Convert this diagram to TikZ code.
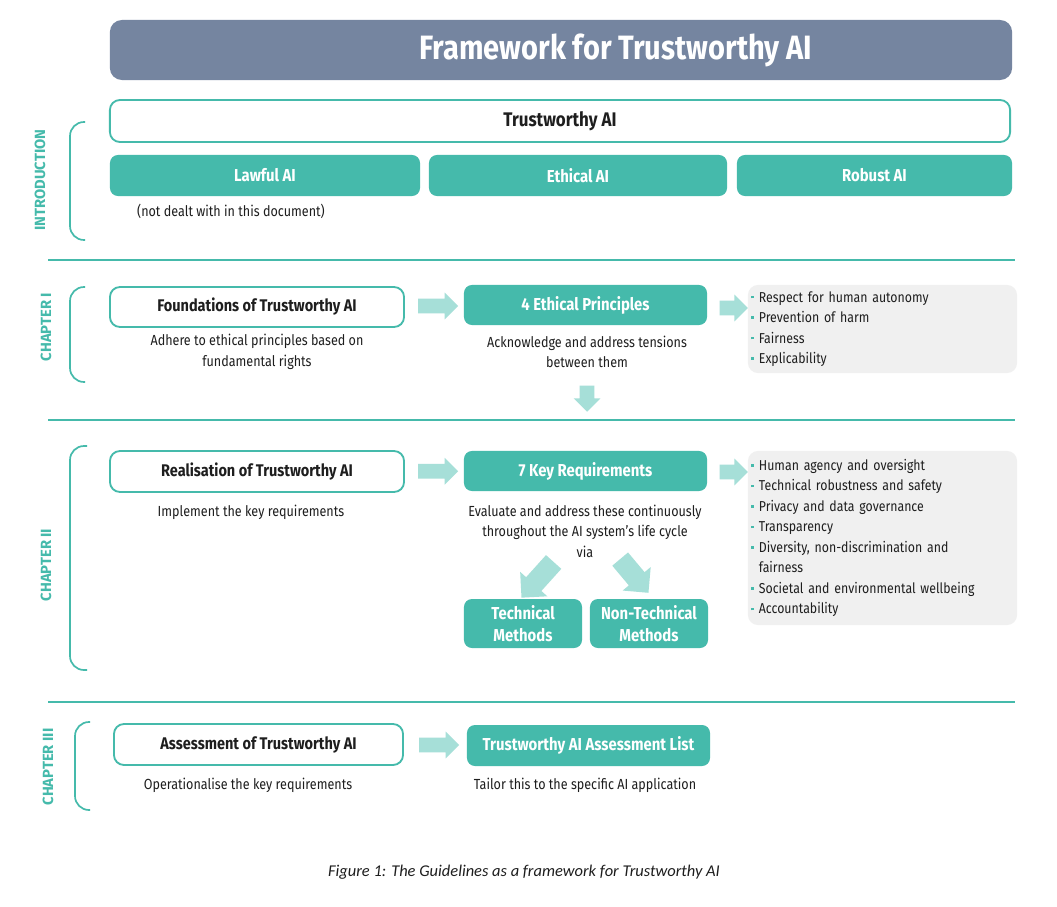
\documentclass[tikz,border=0pt]{standalone}
\usepackage{fontspec}
\setmainfont{Fira Sans}[FakeStretch=0.86]
\newfontfamily\capfont{Carlito}
\newfontfamily\chapfont{Fira Sans}
\usetikzlibrary{shapes.arrows,calc}

\definecolor{aiteal}{HTML}{45BAAB}
\definecolor{aipale}{HTML}{A6DFD8}
\definecolor{aislate}{HTML}{7585A0}
\definecolor{aigrey}{HTML}{F0F0F0}
\definecolor{aitext}{HTML}{1E1E1E}

\newcommand{\itm}{\makebox[5.5pt][l]{\textcolor{aiteal}{\rule[2.6pt]{1.8pt}{1.8pt}}}}

\begin{document}
\begin{tikzpicture}[x=0.025cm, y=-0.025cm,
  every node/.style={text=aitext, font=\fontsize{10.4}{14.5}\selectfont},
  framebox/.style={draw=aiteal, line width=1.3pt, fill=white, rounded corners=0.25cm,
    font=\bfseries\fontsize{12}{14}\selectfont},
  tealbox/.style={fill=aiteal, rounded corners=0.2cm, text=white, align=center,
    font=\bfseries\fontsize{12.3}{16}\selectfont},
  listbox/.style={fill=aigrey, rounded corners=0.25cm, align=left, inner xsep=0.08cm,
    text width=6.565cm, minimum width=6.725cm, font=\fontsize{10.2}{14.6}\selectfont},
  subtxt/.style={align=center},
  chaplabel/.style={rotate=90, text=aiteal, font=\chapfont\bfseries\fontsize{10.5}{11}\selectfont},
  bracket/.style={aiteal, line width=1.2pt, rounded corners=0.35cm},
  sepline/.style={aiteal, line width=1pt},
  blockarrow/.style={single arrow, fill=aipale, inner sep=0.18cm, minimum width=0.66cm,
    single arrow head extend=0.15cm, minimum height=1cm},
  diagarrow/.style={blockarrow, inner sep=0.25cm, minimum width=0.9cm, single arrow head extend=0.2cm}]

\fill[white] (0,0) rectangle (1057,906);
\useasboundingbox (0,0) rectangle (1057,906);

% title banner
\node[fill=aislate, rounded corners=0.3cm, minimum width=22.55cm, minimum height=1.5cm] (banner) at (561,50) {};
\node[text=white, font=\bfseries\fontsize{24}{26}\selectfont] (title) at (616,50) {Framework for Trustworthy AI};

% introduction
\node[chaplabel] (intro) at (40,180) {INTRODUCTION};
\draw[bracket] (85,122) -- (70,122) -- (70,240) -- (85,240);
\node[framebox, minimum width=22.5cm, minimum height=1.05cm, font=\bfseries\fontsize{14}{16}\selectfont] (tai) at (560,121) {Trustworthy AI};
\node[tealbox, minimum width=7.75cm, minimum height=1.025cm] (lawful) at (265,175.5) {Lawful AI};
\node[tealbox, minimum width=7.45cm, minimum height=1.025cm] (ethical) at (578,175.5) {Ethical AI};
\node[tealbox, minimum width=6.875cm, minimum height=1.025cm] (robust) at (874.5,175.5) {Robust AI};
\node[subtxt] (lawful-sub) at (231,211) {(not dealt with in this document)};

\draw[sepline] (48,260) -- (1015,260);

% chapter I
\node[chaplabel] (ch1) at (46,327) {CHAPTER I};
\draw[bracket] (85,287) -- (70,287) -- (70,382) -- (85,382);
\node[framebox, minimum width=7.35cm, minimum height=1cm] (found) at (257,307) {Foundations of Trustworthy AI};
\node[subtxt] (found-sub) at (257,352) {Adhere to ethical principles based on\\fundamental rights};
\node[tealbox, minimum width=6.075cm, minimum height=1cm] (ethp) at (585.5,305) {4 Ethical Principles};
\node[subtxt] (ethp-sub) at (587,352) {Acknowledge and address tensions\\between them};
\node[listbox, minimum height=2.2cm] (plist) at (882.5,329)
  {\itm Respect for human autonomy\\\itm Prevention of harm\\\itm Fairness\\\itm Explicability};
\node[blockarrow] (ar1) at ($(found.east)!0.5!(ethp.west)$) {};
\node[blockarrow, minimum height=0.7cm] (ar2) at (730,308) {};
\node[blockarrow, minimum height=0.65cm, rotate=270] (ar3) at (587,395) {};

\draw[sepline] (48,420) -- (1015,420);

% chapter II
\node[chaplabel] (ch2) at (46,565) {CHAPTER II};
\draw[bracket] (87,446) -- (70,446) -- (70,670) -- (87,670);
\node[framebox, minimum width=7.35cm, minimum height=1.025cm] (real) at (257,471.5) {Realisation of Trustworthy AI};
\node[subtxt] (real-sub) at (251,512) {Implement the key requirements};
\node[tealbox, minimum width=6.075cm, minimum height=1cm] (keyreq) at (585.5,471) {7 Key Requirements};
\node[subtxt] (keyreq-sub) at (585,531) {Evaluate and address these continuously\\throughout the AI system's life cycle\\via};
\node[listbox, minimum height=4.35cm] (rlist) at (882.5,538)
  {\itm Human agency and oversight\\\itm Technical robustness and safety\\\itm Privacy and data governance\\\itm Transparency\\\itm Diversity, non-discrimination and\\\hspace*{5.5pt}fairness\\\itm Societal and environmental wellbeing\\\itm Accountability};
\node[blockarrow] (ar4) at ($(real.east)!0.5!(keyreq.west)$) {};
\node[blockarrow, minimum height=0.7cm] (ar5) at (730,472) {};
\node[tealbox, minimum width=2.95cm, minimum height=1.225cm] (tech) at (523,623.5) {Technical\\Methods};
\node[tealbox, minimum width=2.95cm, minimum height=1.225cm] (nontech) at (649,623.5) {Non-Technical\\Methods};
\node[diagarrow, minimum height=1.2cm, rotate=228] (ar6) at (541,576) {};
\node[diagarrow, minimum height=1.1cm, rotate=310] (ar7) at (631,572) {};

\draw[sepline] (48,702) -- (1015,702);

% chapter III
\node[chaplabel] (ch3) at (48,767) {CHAPTER III};
\draw[bracket] (90,722) -- (75,722) -- (75,810) -- (90,810);
\node[framebox, minimum width=7.225cm, minimum height=1.025cm] (assess) at (258.5,744.5) {Assessment of Trustworthy AI};
\node[subtxt] (assess-sub) at (248,785) {Operationalise the key requirements};
\node[tealbox, minimum width=6.075cm, minimum height=1.025cm] (alist) at (588.5,745.5) {Trustworthy AI Assessment List};
\node[subtxt] (alist-sub) at (585,785) {Tailor this to the specific AI application};
\node[blockarrow] (ar8) at ($(assess.east)!0.5!(alist.west)$) {};

\node[font=\capfont\itshape\fontsize{11.7}{13}\selectfont] (caption) at (524,872) {Figure 1: The Guidelines as a framework for Trustworthy AI};
\end{tikzpicture}
\end{document}
